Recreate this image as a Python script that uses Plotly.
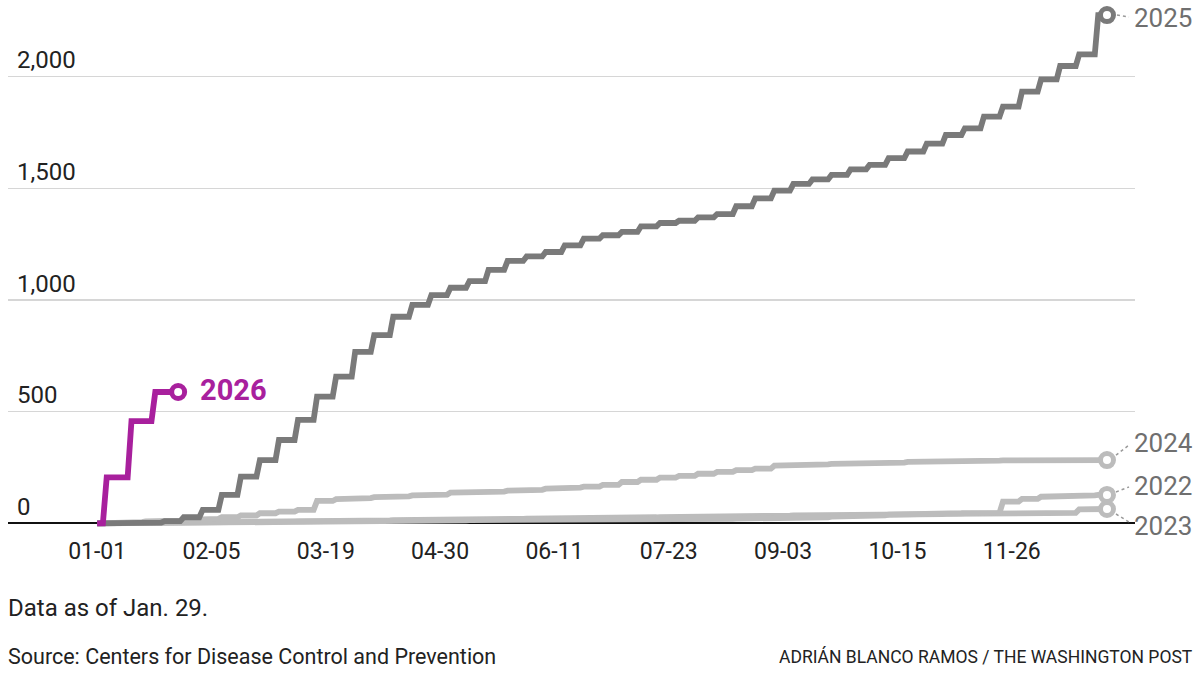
import plotly.graph_objects as go

# ---------------- data ----------------
# weekly cumulative measles cases, week 0 = Jan 1 (start), week 53 = end of year
weeks = list(range(54))

cases_2025 = [0, 0, 1, 3, 10, 27, 60, 127, 209, 283,
              373, 463, 567, 657, 768, 843, 925, 978, 1022, 1055,
              1085, 1135, 1175, 1195, 1215, 1245, 1275, 1290, 1305, 1330,
              1345, 1355, 1370, 1385, 1420, 1455, 1490, 1520, 1540, 1560,
              1585, 1605, 1635, 1665, 1700, 1739, 1769, 1821, 1866, 1933,
              1988, 2048, 2100, 2276]

cases_2024 = [0, 2, 5, 8, 12, 15, 20, 27, 35, 45,
              52, 60, 100, 108, 113, 117, 121, 125, 128, 137,
              140, 142, 146, 150, 155, 160, 164, 172, 185, 195,
              205, 212, 222, 230, 238, 245, 258, 261, 264, 266,
              268, 270, 272, 275, 278, 280, 281, 281, 282, 282,
              282, 283, 283, 283]

cases_2022 = [0, 0, 1, 1, 2, 3, 3, 4, 5, 5,
              6, 7, 8, 8, 9, 10, 11, 12, 12, 13,
              14, 14, 15, 15, 16, 16, 17, 17, 18, 18,
              19, 19, 20, 20, 21, 21, 22, 24, 27, 30,
              33, 36, 39, 42, 44, 45, 46, 47, 97, 109,
              119, 123, 125, 127]

cases_2023 = [0, 0, 1, 2, 2, 3, 4, 5, 6, 7,
              8, 9, 10, 11, 12, 13, 14, 15, 16, 17,
              18, 19, 20, 21, 22, 23, 24, 25, 26, 27,
              28, 29, 30, 31, 32, 33, 34, 35, 36, 37,
              38, 39, 40, 41, 41, 42, 43, 44, 44, 45,
              46, 47, 62, 64]

# 2026: report times (weeks since Jan 1) and cumulative cases, data as of Jan. 29
weeks_2026 = [0, 0.4, 1.7, 2.95, 4.25]
cases_2026 = [0, 206, 458, 588, 588]

tick_weeks = [0, 6, 12, 18, 24, 30, 36, 42, 48]
tick_labels = ["01-01", "02-05", "03-19", "04-30", "06-11",
               "07-23", "09-03", "10-15", "11-26"]

y_ticks = [0, 500, 1000, 1500, 2000]
y_tick_labels = ["0", "500", "1,000", "1,500", "2,000"]

# ---------------- styles ----------------
DARK = "#7a7a7a"
LIGHT = "#bcbcbc"
MAGENTA = "#a8209d"
FONT = "Roboto"


def step_centered(x, y, s=0.09, off=0.45):
    """step line whose risers sit between consecutive weeks, slightly slanted"""
    xs, ys = [x[0]], [y[0]]
    for i in range(1, len(x)):
        m = x[i - 1] + (x[i] - x[i - 1]) * off
        xs += [m - s, m + s]
        ys += [y[i - 1], y[i]]
    xs.append(x[-1])
    ys.append(y[-1])
    return xs, ys


def step_after(x, y, s=0.1):
    xs, ys = [x[0]], [y[0]]
    for i in range(1, len(x)):
        if y[i] == y[i - 1]:
            xs.append(x[i]); ys.append(y[i])
            continue
        xs += [x[i] - s, x[i] + s]
        ys += [y[i - 1], y[i]]
    return xs, ys


fig = go.Figure()

series = [
    ("2023", weeks, cases_2023, LIGHT, "c"),
    ("2022", weeks, cases_2022, LIGHT, "c"),
    ("2024", weeks, cases_2024, LIGHT, "c"),
    ("2025", weeks, cases_2025, DARK, "c"),
    ("2026", weeks_2026, cases_2026, MAGENTA, "a"),
]

for name, xw, yv, col, mode in series:
    if mode == "c":
        xs, ys = step_centered(xw, yv)
    else:
        xs, ys = step_after(xw, yv)
    fig.add_trace(go.Scatter(x=xs, y=ys, mode="lines", name=name,
                             line=dict(color=col, width=5.8),
                             hoverinfo="skip", cliponaxis=False))
for name, xw, yv, col, mode in series:
    fig.add_trace(go.Scatter(x=[xw[-1]], y=[yv[-1]], mode="markers",
                             marker=dict(symbol="circle", size=13, color="white",
                                         line=dict(color=col, width=5)),
                             hoverinfo="skip", cliponaxis=False, showlegend=False))

# end labels (pixel offsets relative to the series end point)
label_cfg = {
    "2025": dict(dy=-3, lead=(10, 0, 22, -2)),
    "2024": dict(dy=17, lead=(9, 5, 22, 15)),
    "2022": dict(dy=9, lead=(9, 3, 22, 8)),
    "2023": dict(dy=-17, lead=(9, -5, 22, -13)),
}
annotations = []
shapes = []
for name, xw, yv, col, mode in series:
    if name == "2026":
        annotations.append(dict(x=xw[-1], y=yv[-1], xref="x", yref="y",
                                text="<b>2026</b>", showarrow=False,
                                xanchor="left", yanchor="middle", xshift=20, yshift=2,
                                font=dict(family=FONT, size=29, color=MAGENTA)))
        continue
    cfg = label_cfg[name]
    annotations.append(dict(x=xw[-1], y=yv[-1], xref="x", yref="y",
                            text=name, showarrow=False,
                            xanchor="left", yanchor="middle", xshift=25, yshift=cfg["dy"],
                            font=dict(family=FONT, size=26, color="#6f6f6f")))
    x0, y0, x1, y1 = cfg["lead"]
    shapes.append(dict(type="line", xref="x", yref="y",
                       xsizemode="pixel", ysizemode="pixel",
                       xanchor=xw[-1], yanchor=yv[-1],
                       x0=x0, y0=y0, x1=x1, y1=y1,
                       line=dict(color="#9a9a9a", width=1.5, dash="dot")))

annotations += [
    dict(x=0, y=608, xref="paper", yref="paper", text="Data as of Jan. 29.",
         showarrow=False, xanchor="left", yanchor="middle",
         font=dict(family=FONT, size=24, color="#222222")),
    dict(x=0, y=656, xref="paper", yref="paper",
         text="Source: Centers for Disease Control and Prevention",
         showarrow=False, xanchor="left", yanchor="middle",
         font=dict(family=FONT, size=21.5, color="#222222")),
    dict(x=1, y=656, xref="paper", yref="paper",
         text="ADRIÁN BLANCO RAMOS / THE WASHINGTON POST",
         showarrow=False, xanchor="right", yanchor="middle",
         font=dict(family=FONT, size=17.5, color="#222222")),
]

# convert the footnote pixel rows into paper coordinates
W, H = 1200, 675
ML, MR, MT, MB = 8, 65, 5, 140
ph = H - MT - MB
pw = W - ML - MR
for a in annotations:
    if a.get("xref") == "paper":
        a["y"] = (H - MB - a["y"]) / ph
        if a["x"] == 1:
            a["x"] = (1195 - ML) / pw
        else:
            a["x"] = -2 / pw

fig.update_layout(
    width=W, height=H,
    margin=dict(l=ML, r=MR, t=MT, b=MB),
    paper_bgcolor="white", plot_bgcolor="white",
    showlegend=False,
    font=dict(family=FONT, color="#222222"),
    annotations=annotations,
    shapes=shapes,
)
fig.update_xaxes(range=[-4.68, 54.47], tickvals=tick_weeks, ticktext=tick_labels,
                 showgrid=False, zeroline=False, showline=False, ticks="",
                 tickfont=dict(family=FONT, size=23, color="#222222"),
                 fixedrange=True)
fig.update_yaxes(range=[-52.4, 2321.2], tickvals=y_ticks, ticktext=y_tick_labels,
                 showgrid=True, gridcolor="#d6d6d6", gridwidth=1.5,
                 zeroline=True, zerolinecolor="#111111", zerolinewidth=2,
                 showline=False, ticks="",
                 ticklabelposition="inside top", ticklabelstandoff=6,
                 tickfont=dict(family=FONT, size=24, color="#222222"),
                 fixedrange=True)

fig.write_html("out.html",
               config={"displayModeBar": False, "staticPlot": True},
               post_script="document.body.style.margin='0px';document.body.style.padding='0px';")
